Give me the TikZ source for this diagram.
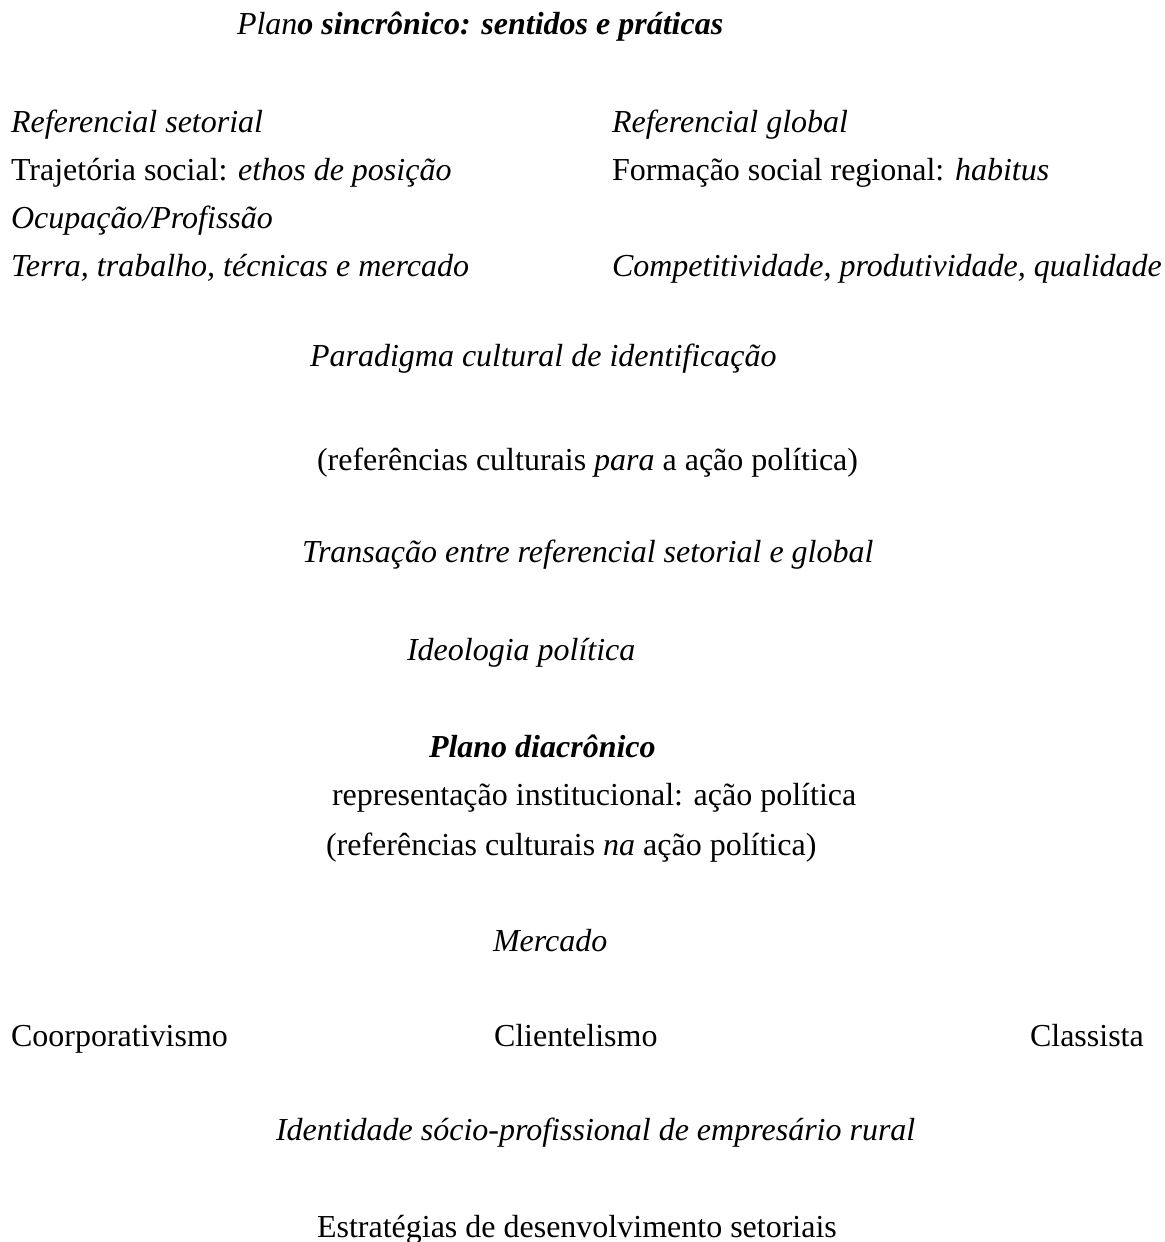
\documentclass[tikz,border=0pt]{standalone}
\usepackage{fontspec}
\setmainfont{Liberation Serif}
\begin{document}
\begin{tikzpicture}[x=0.5pt,y=-0.5pt,
  txt/.style={inner sep=0pt, outer sep=0pt, anchor=base west, font=\fontsize{16}{19}\selectfont}]
\useasboundingbox (0,0) rectangle (1164,1242);
\node[txt] (title) at (237,34) {\textit{Plan}\textbf{\textit{o sincrônico: sentidos e práticas}}};
\node[txt] (rs) at (11,132) {\textit{Referencial setorial}};
\node[txt] (rg) at (612,132) {\textit{Referencial global}};
\node[txt] (ts) at (11,180) {Trajetória social: \textit{ethos de posição}};
\node[txt] (fs) at (612,180) {Formação social regional: \textit{habitus}};
\node[txt] (op) at (11,228) {\textit{Ocupação/Profissão}};
\node[txt] (tt) at (11,276) {\textit{Terra, trabalho, técnicas e mercado}};
\node[txt] (cp) at (612,276) {\textit{Competitividade, produtividade, qualidade}};
\node[txt] (pc) at (310,366) {\textit{Paradigma cultural de identificação}};
\node[txt] (rp) at (317,470) {(referências culturais \textit{para} a ação política)};
\node[txt] (tr) at (302,562) {\textit{Transação entre referencial setorial e global}};
\node[txt] (ip) at (407,660) {\textit{Ideologia política}};
\node[txt] (pd) at (429,757) {\textbf{\textit{Plano diacrônico}}};
\node[txt] (ri) at (332,805) {representação institucional: ação política};
\node[txt] (rn) at (326,855) {(referências culturais \textit{na} ação política)};
\node[txt] (me) at (493,951) {\textit{Mercado}};
\node[txt] (co) at (11,1046) {Coorporativismo};
\node[txt] (cl) at (494,1046) {Clientelismo};
\node[txt] (cs) at (1030,1046) {Classista};
\node[txt] (id) at (276,1140) {\textit{Identidade sócio-profissional de empresário rural}};
\node[txt] (es) at (317,1237) {Estratégias de desenvolvimento setoriais};
\end{tikzpicture}
\end{document}
